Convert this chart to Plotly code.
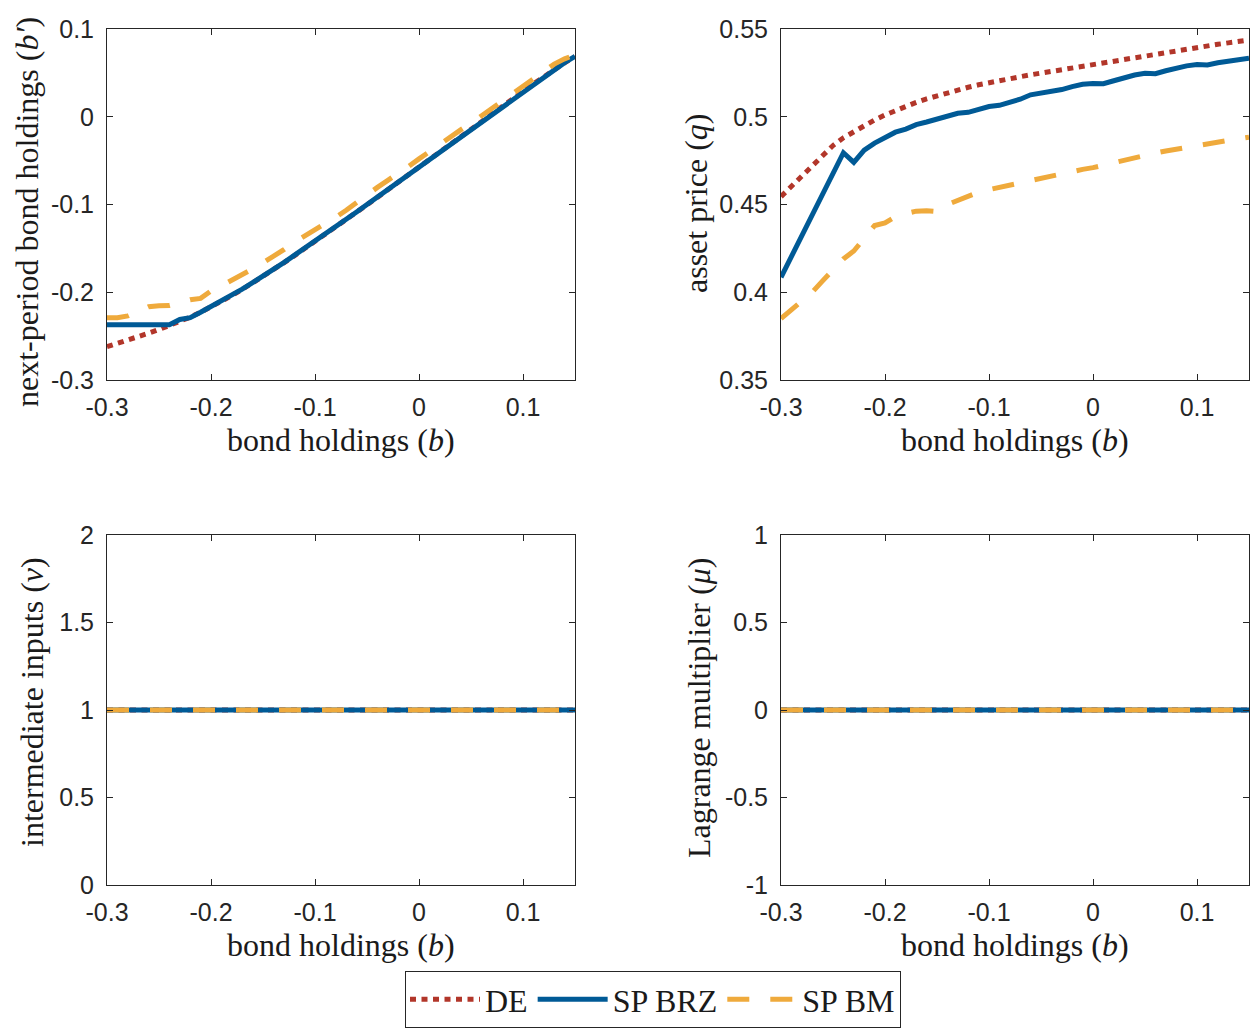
import plotly.graph_objects as go

# ---------------- data ----------------
b_grid = [-0.30, -0.29, -0.28, -0.27, -0.26, -0.25, -0.24, -0.23, -0.22, -0.21,
          -0.20, -0.19, -0.18, -0.17, -0.16, -0.15, -0.14, -0.13, -0.12, -0.11,
          -0.10, -0.09, -0.08, -0.07, -0.06, -0.05, -0.04, -0.03, -0.02, -0.01,
          0.00, 0.01, 0.02, 0.03, 0.04, 0.05, 0.06, 0.07, 0.08, 0.09,
          0.10, 0.11, 0.12, 0.13, 0.14, 0.15]

# next-period bond holdings b'
bp_de = [-0.2620, -0.2585, -0.2548, -0.2508, -0.2467, -0.2425, -0.2382, -0.2335, -0.2284, -0.2228,
         -0.2168, -0.2105, -0.2038, -0.1968, -0.1895, -0.1820, -0.1743, -0.1665, -0.1585, -0.1504,
         -0.1422, -0.1340, -0.1257, -0.1173, -0.1089, -0.1004, -0.0919, -0.0834, -0.0748, -0.0662,
         -0.0576, -0.0490, -0.0404, -0.0318, -0.0232, -0.0146, -0.0060, 0.0026, 0.0113, 0.0200,
         0.0288, 0.0374, 0.0458, 0.0539, 0.0615, 0.0685]
bp_brz = [-0.2370, -0.2370, -0.2370, -0.2370, -0.2370, -0.2370, -0.2370, -0.2310, -0.2290, -0.2228,
          -0.2165, -0.2100, -0.2035, -0.1965, -0.1890, -0.1817, -0.1738, -0.1662, -0.1580, -0.1500,
          -0.1418, -0.1336, -0.1253, -0.1168, -0.1085, -0.1000, -0.0915, -0.0830, -0.0745, -0.0659,
          -0.0573, -0.0487, -0.0401, -0.0315, -0.0229, -0.0143, -0.0057, 0.0029, 0.0116, 0.0203,
          0.0291, 0.0377, 0.0461, 0.0541, 0.0617, 0.0687]
bp_bm = [-0.2290, -0.2290, -0.2270, -0.2220, -0.2165, -0.2155, -0.2150, -0.2120, -0.2085, -0.2070,
         -0.1985, -0.1925, -0.1865, -0.1800, -0.1735, -0.1665, -0.1595, -0.1515, -0.1430, -0.1360,
         -0.1295, -0.1220, -0.1145, -0.1065, -0.0975, -0.0890, -0.0805, -0.0725, -0.0650, -0.0565,
         -0.0480, -0.0395, -0.0315, -0.0230, -0.0150, -0.0075, 0.0010, 0.0095, 0.0185, 0.0275,
         0.0360, 0.0440, 0.0520, 0.0600, 0.0660, 0.0705]

# asset price q
q_de = [0.4545, 0.4605, 0.4662, 0.4724, 0.4780, 0.4836, 0.4880, 0.4915, 0.4950, 0.4982,
        0.5010, 0.5036, 0.5060, 0.5082, 0.5102, 0.5120, 0.5137, 0.5153, 0.5168, 0.5182,
        0.5195, 0.5207, 0.5218, 0.5228, 0.5239, 0.5249, 0.5259, 0.5269, 0.5279, 0.5289,
        0.5299, 0.5309, 0.5319, 0.5329, 0.5338, 0.5348, 0.5358, 0.5368, 0.5378, 0.5387,
        0.5396, 0.5405, 0.5413, 0.5421, 0.5429, 0.5437]
q_brz = [0.4085, 0.4205, 0.4320, 0.4437, 0.4553, 0.4670, 0.4795, 0.4740, 0.4810, 0.4850,
         0.4880, 0.4912, 0.4930, 0.4955, 0.4970, 0.4985, 0.5000, 0.5020, 0.5025, 0.5040,
         0.5058, 0.5065, 0.5080, 0.5100, 0.5125, 0.5135, 0.5138, 0.5155, 0.5172, 0.5185,
         0.5190, 0.5188, 0.5205, 0.5222, 0.5238, 0.5248, 0.5245, 0.5262, 0.5278, 0.5290,
         0.5298, 0.5295, 0.5308, 0.5318, 0.5326, 0.5334]
q_bm = [0.3850, 0.3900, 0.3950, 0.4000, 0.4065, 0.4130, 0.4190, 0.4235, 0.4310, 0.4380,
        0.4395, 0.4430, 0.4448, 0.4462, 0.4465, 0.4460, 0.4500, 0.4525, 0.4548, 0.4570,
        0.4585, 0.4598, 0.4610, 0.4626, 0.4640, 0.4652, 0.4665, 0.4678, 0.4690, 0.4700,
        0.4710, 0.4725, 0.4740, 0.4752, 0.4765, 0.4780, 0.4793, 0.4805, 0.4816, 0.4827,
        0.4838, 0.4847, 0.4856, 0.4865, 0.4874, 0.4883]

# intermediate inputs v and Lagrange multiplier mu (flat)
b_flat = [-0.30, 0.15]
v_de = [1.0, 1.0]
v_brz = [1.0, 1.0]
v_bm = [1.0, 1.0]
mu_de = [0.0, 0.0]
mu_brz = [0.0, 0.0]
mu_bm = [0.0, 0.0]

series_names = ["DE", "SP BRZ", "SP BM"]

x_tickvals = [-0.3, -0.2, -0.1, 0.0, 0.1]
x_ticktext = ["-0.3", "-0.2", "-0.1", "0", "0.1"]
y1_tickvals = [-0.3, -0.2, -0.1, 0.0, 0.1]
y1_ticktext = ["-0.3", "-0.2", "-0.1", "0", "0.1"]
y2_tickvals = [0.35, 0.40, 0.45, 0.50, 0.55]
y2_ticktext = ["0.35", "0.4", "0.45", "0.5", "0.55"]
y3_tickvals = [0, 0.5, 1, 1.5, 2]
y3_ticktext = ["0", "0.5", "1", "1.5", "2"]
y4_tickvals = [-1, -0.5, 0, 0.5, 1]
y4_ticktext = ["-1", "-0.5", "0", "0.5", "1"]

x_title = "bond holdings (<i>b</i>)"
y_titles = ["next-period bond holdings (<i>b′</i>)", "asset price (<i>q</i>)",
            "intermediate inputs (<i>v</i>)", "Lagrange multiplier (<i>μ</i>)"]

# ---------------- styling ----------------
W, H = 1253, 1028
RED, BLUE, YEL = "#B2362A", "#005A96", "#EFAA3C"
LW = 5
styles = [dict(color=RED, width=LW, dash="6px,5.5px"),
          dict(color=BLUE, width=LW, dash="solid"),
          dict(color=YEL, width=LW, dash="22px,21px")]
TICKFONT = dict(family="Liberation Sans, Arial, sans-serif", size=25, color="#262626")
SERIF = "Liberation Serif, Times New Roman, serif"
TXT = "#1a1a1a"
AXC = "#262626"
TITLE_SIZE = 32

# plot areas in pixels (left, right, top, bottom)
areas = [(107, 575, 29, 380), (781, 1249, 29, 380), (107, 575, 535, 885), (781, 1249, 535, 885)]

fig = go.Figure()

panel_data = [
    (b_grid, [bp_de, bp_brz, bp_bm]),
    (b_grid, [q_de, q_brz, q_bm]),
    (b_flat, [v_de, v_brz, v_bm]),
    (b_flat, [mu_de, mu_brz, mu_bm]),
]
for i, (xs, ys_list) in enumerate(panel_data):
    ax = "" if i == 0 else str(i + 1)
    for j, ys in enumerate(ys_list):
        fig.add_trace(go.Scatter(
            x=xs, y=ys, mode="lines", name=series_names[j], line=styles[j],
            xaxis="x" + ax, yaxis="y" + ax, showlegend=(i == 0), legendgroup=series_names[j]))

yranges = [(-0.3, 0.1), (0.35, 0.55), (0, 2), (-1, 1)]
yticks = [(y1_tickvals, y1_ticktext), (y2_tickvals, y2_ticktext),
          (y3_tickvals, y3_ticktext), (y4_tickvals, y4_ticktext)]

layout = dict(width=W, height=H, margin=dict(l=0, r=0, t=0, b=0, autoexpand=False),
              paper_bgcolor="white", plot_bgcolor="white", showlegend=True)
common = dict(showgrid=False, zeroline=False, showline=True, linecolor=AXC, linewidth=1,
              mirror="ticks", ticks="inside", ticklen=6, tickcolor=AXC, tickwidth=1,
              tickfont=TICKFONT, automargin=False)
for i, (l, r, t, bt) in enumerate(areas):
    ax = "" if i == 0 else str(i + 1)
    layout["xaxis" + ax] = dict(common, domain=[l / W, r / W], range=[-0.3, 0.15],
                                tickvals=x_tickvals, ticktext=x_ticktext,
                                anchor="y" + ax, ticklabelstandoff=5)
    layout["yaxis" + ax] = dict(common, domain=[1 - bt / H, 1 - t / H], range=list(yranges[i]),
                                tickvals=yticks[i][0], ticktext=yticks[i][1],
                                anchor="x" + ax, ticklabelstandoff=7)
fig.update_layout(**layout)

# axis titles
ann = []
for i, (l, r, t, bt) in enumerate(areas):
    ann.append(dict(text=x_title, x=((l + r) / 2) / W, y=1 - (bt + 60) / H, xref="paper", yref="paper",
                    xanchor="center", yanchor="middle", showarrow=False,
                    font=dict(family=SERIF, size=TITLE_SIZE, color=TXT)))
ytitle_pos = [(27, 212), (696, 204), (32, 702), (699, 708)]
for i, (px, py) in enumerate(ytitle_pos):
    ann.append(dict(text=y_titles[i], x=px / W, y=1 - py / H, xref="paper", yref="paper",
                    xanchor="center", yanchor="middle", showarrow=False, textangle=-90,
                    font=dict(family=SERIF, size=TITLE_SIZE, color=TXT)))
fig.update_layout(annotations=ann)

fig.update_layout(legend=dict(
    orientation="h", x=405 / W, xanchor="left", y=0.0, yanchor="bottom",
    bordercolor=AXC, borderwidth=1, bgcolor="white",
    font=dict(family=SERIF, size=TITLE_SIZE, color=TXT),
    itemwidth=70, tracegroupgap=0))

fig.write_html("out.html", config={"displayModeBar": False},
               post_script="document.body.style.margin='0';")
